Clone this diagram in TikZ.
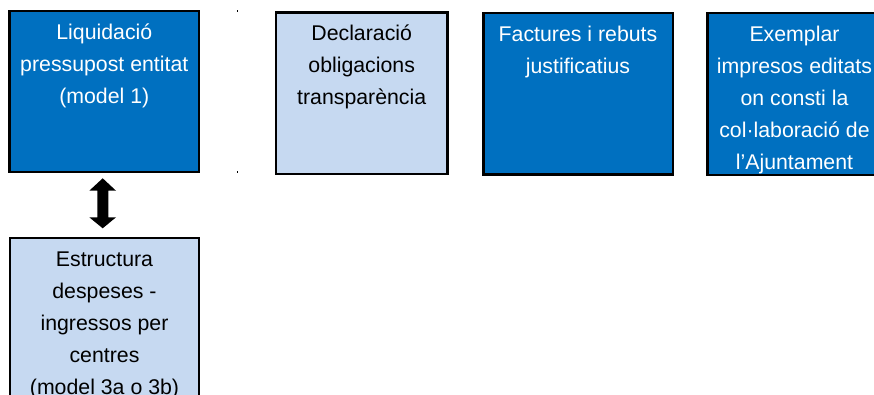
\documentclass[tikz,border=0pt]{standalone}
\usepackage{fontspec}
\setmainfont{Liberation Sans}
\definecolor{darkbox}{HTML}{0070C0}
\definecolor{lightbox}{HTML}{C6D9F1}
\tikzset{
  boxdark/.style={draw=black, line width=2.5pt, fill=darkbox},
  boxlight/.style={draw=black, line width=2.5pt, fill=lightbox},
  boxtext/.style={anchor=base, align=center, inner sep=0pt, font=\fontsize{21.3}{32}\selectfont},
}
\begin{document}
\begin{tikzpicture}[x=1pt,y=-1pt]
\useasboundingbox (0,0) rectangle (874,394);
\clip (0,0) rectangle (874,394);
% boxes (anchor base = last line baseline)
\draw[boxdark] (9.5,11) rectangle (199,172);
\node[boxtext, text=white] (t1) at (104.3,103.3) {Liquidació\\pressupost entitat\\(model 1)};

\draw[boxlight] (276,12.5) rectangle (447.5,174);
\node[boxtext, text=black] (t2) at (361.7,104.7) {Declaració\\obligacions\\transparència};

\draw[boxdark] (483.5,12.8) rectangle (673,174.5);
\node[boxtext, text=white] (t3) at (578,73) {Factures i rebuts\\justificatius};

\draw[boxdark] (707.5,12.8) rectangle (882,175);
\node[boxtext, text=white] (t4) at (794.5,169) {Exemplar\\impresos editats\\on consti la\\col·laboració de\\l’Ajuntament};

\draw[boxlight] (10,238) rectangle (199,420);
\node[boxtext, text=black] (t5) at (104.5,394) {Estructura\\despeses -\\ingressos per\\centres\\(model 3a o 3b)};

% double block arrow
\fill[black] (102.7,178.3) -- (116,190.7) -- (108.3,190.7) -- (108.3,217.3) -- (116,217.3)
  -- (102.7,228.3) -- (89.3,217.3) -- (97.3,217.3) -- (97.3,190.7) -- (89.3,190.7) -- cycle;

% small marks
\fill[black] (236.5,10.2) rectangle (238.3,12);
\fill[black] (236.5,171.2) rectangle (238.3,173);
\end{tikzpicture}
\end{document}
